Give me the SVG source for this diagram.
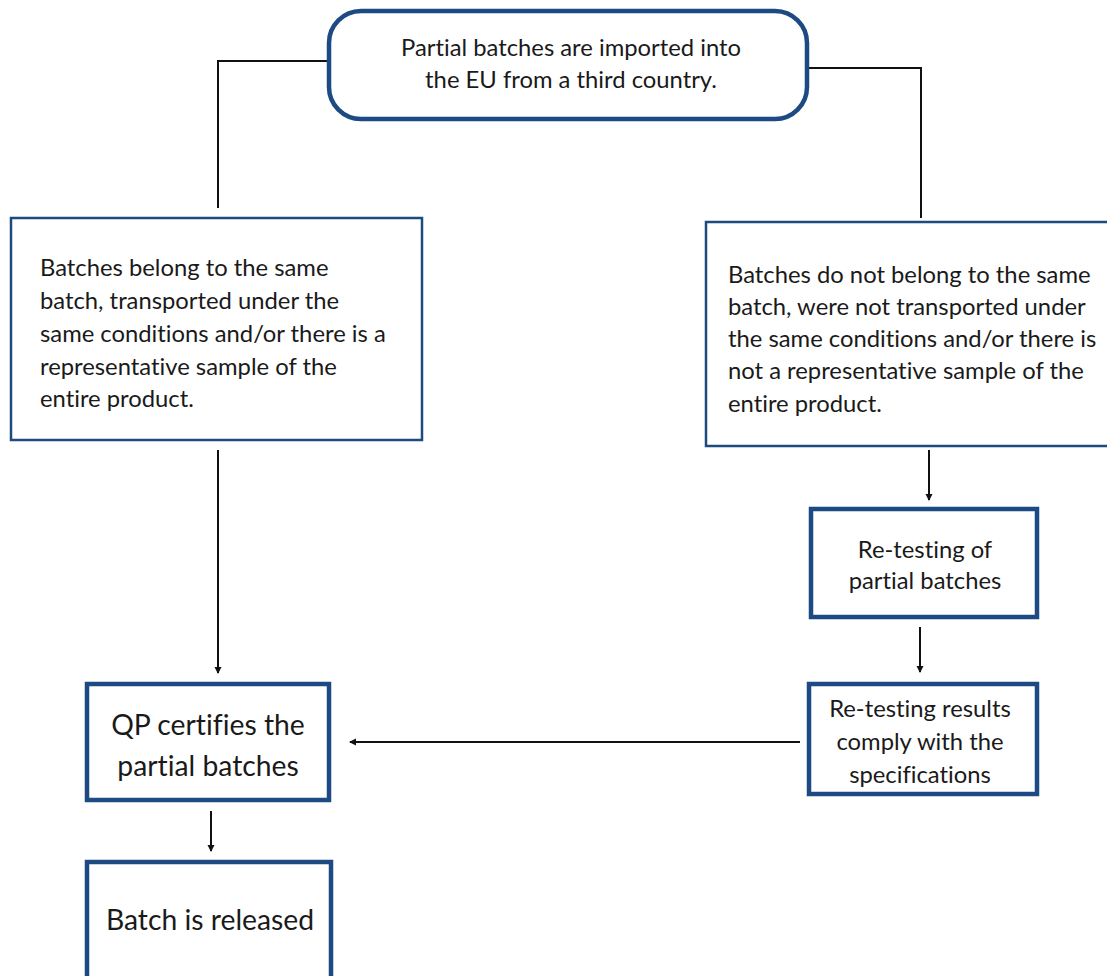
<svg xmlns="http://www.w3.org/2000/svg" width="1107" height="976" viewBox="0 0 1107 976">
<style>
.box{fill:#fff;stroke:#1d4a83;}
.thin{stroke-width:2.5;}
.thick{stroke-width:4.5;}
.t{font-family:Lato,"Noto Sans",sans-serif;fill:#1a1a1a;font-size:23.8px;font-variant-ligatures:none;}
.tm{text-anchor:middle;}
.big{font-size:28.3px;}
.c{fill:none;stroke:#111;stroke-width:2;}
</style>
<defs>
<marker id="ah" markerWidth="8" markerHeight="8" refX="6" refY="4" orient="auto" markerUnits="userSpaceOnUse">
<path d="M0,0.5 L7,4 L0,7.5 Z" fill="#111"/>
</marker>
</defs>
<rect width="1107" height="976" fill="#fff"/>
<g id="connectors">
<polyline class="c" points="328,61 218,61 218,208"/>
<polyline class="c" points="808,68 921,68 921,218"/>
<line class="c" x1="218" y1="450" x2="218" y2="673" marker-end="url(#ah)"/>
<line class="c" x1="929" y1="450" x2="929" y2="500" marker-end="url(#ah)"/>
<line class="c" x1="920" y1="627" x2="920" y2="672" marker-end="url(#ah)"/>
<line class="c" x1="800" y1="742" x2="350" y2="742" marker-end="url(#ah)"/>
<line class="c" x1="211" y1="811" x2="211" y2="851" marker-end="url(#ah)"/>
</g>
<g id="n-top">
<rect class="box thick" x="329" y="11" width="478" height="108" rx="32"/>
<text class="t tm" x="571" y="56">Partial batches are imported into</text>
<text class="t tm" x="571" y="88">the EU from a third country.</text>
</g>
<g id="n-same">
<rect class="box thin" x="11" y="218" width="411" height="222"/>
<text class="t" x="40" y="276">Batches belong to the same</text>
<text class="t" x="40" y="309">batch, transported under the</text>
<text class="t" x="40" y="342">same conditions and/or there is a</text>
<text class="t" x="40" y="375">representative sample of the</text>
<text class="t" x="40" y="407">entire product.</text>
</g>
<g id="n-notsame">
<rect class="box thin" x="706" y="222" width="410" height="224"/>
<text class="t" x="728" y="283">Batches do not belong to the same</text>
<text class="t" x="728" y="315">batch, were not transported under</text>
<text class="t" x="728" y="347">the same conditions and/or there is</text>
<text class="t" x="728" y="379">not a representative sample of the</text>
<text class="t" x="728" y="412">entire product.</text>
</g>
<g id="n-retest">
<rect class="box thick" x="811" y="509" width="226" height="108"/>
<text class="t tm" x="925" y="558">Re-testing of</text>
<text class="t tm" x="925" y="589">partial batches</text>
</g>
<g id="n-results">
<rect class="box thick" x="809" y="684" width="228" height="110"/>
<text class="t tm" x="920" y="717">Re-testing results</text>
<text class="t tm" x="920" y="750">comply with the</text>
<text class="t tm" x="920" y="783">specifications</text>
</g>
<g id="n-qp">
<rect class="box thick" x="87" y="684" width="242" height="116"/>
<text class="t tm big" x="208" y="735">QP certifies the</text>
<text class="t tm big" x="208" y="776">partial batches</text>
</g>
<g id="n-release">
<rect class="box thick" x="87" y="862" width="244" height="130"/>
<text class="t tm big" x="210" y="930">Batch is released</text>
</g>
</svg>
